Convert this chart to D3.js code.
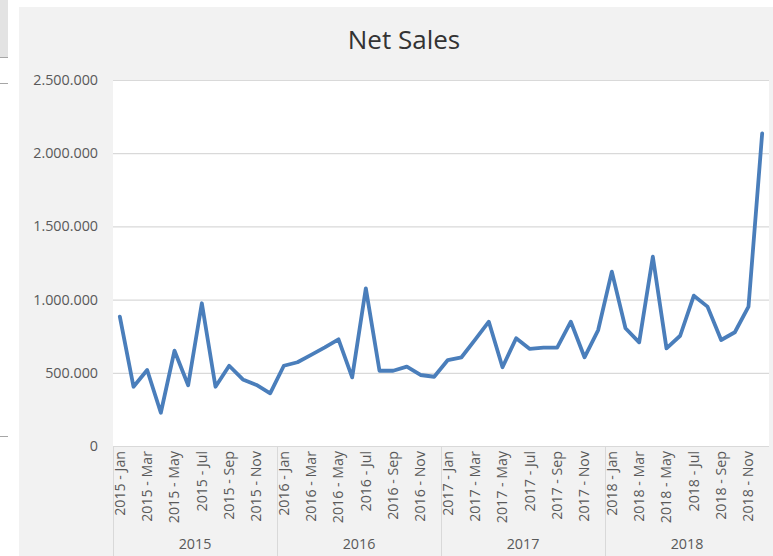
<!DOCTYPE html>
<html>
<head>
<meta charset="utf-8">
<script src="https://cdn.jsdelivr.net/npm/d3@7"></script>
<style>
  html, body { margin: 0; padding: 0; background: #ffffff; }
  svg { display: block; }
</style>
</head>
<body>
<svg id="chart" width="773" height="556"></svg>
<script>
// Monthly net sales, 2015 - 2018
const years = ["2015", "2016", "2017", "2018"];
const months = ["Jan", "Feb", "Mar", "Apr", "May", "Jun", "Jul", "Aug", "Sep", "Oct", "Nov", "Dec"];
const sales2015 = [883000, 405000, 519000, 227000, 651000, 415000, 975000, 405000, 548000, 455000, 417000, 360000];
const sales2016 = [548000, 572000, 622000, 674000, 729000, 469000, 1077000, 514000, 514000, 542000, 485000, 473000];
const sales2017 = [587000, 606000, 727000, 849000, 538000, 736000, 663000, 672000, 672000, 849000, 606000, 792000];
const sales2018 = [1191000, 804000, 708000, 1293000, 667000, 753000, 1027000, 952000, 724000, 777000, 952000, 2136000];
const yTicks = [0, 500000, 1000000, 1500000, 2000000, 2500000];

const salesByYear = [sales2015, sales2016, sales2017, sales2018];
const rows = [];
years.forEach((y, yi) => months.forEach((m, mi) => rows.push({ year: y, label: `${y} - ${m}`, monthIndex: mi, value: salesByYear[yi][mi] })));

const svg = d3.select("#chart");
const W = 773, H = 556;
const plot = { left: 113, right: 769, top: 80, bottom: 446 };
const FONT = "'Open Sans', sans-serif";
const TEXT = "#595959";
const GRID = "#d9d9d9";

// Chart background and the bits of sheet around it
svg.append("rect").attr("x", 0).attr("y", 0).attr("width", W).attr("height", H).attr("fill", "#ffffff");
svg.append("rect").attr("x", 19).attr("y", 7).attr("width", W - 19).attr("height", H - 7).attr("fill", "#f2f2f2");
svg.append("rect").attr("x", 0).attr("y", 0).attr("width", 8).attr("height", 57).attr("fill", "#e3e3e3");
[57, 83, 436].forEach(y => svg.append("line")
  .attr("x1", 0).attr("x2", 8).attr("y1", y + 0.5).attr("y2", y + 0.5)
  .attr("stroke", "#a6a6a6").attr("stroke-width", 1));

// Plot area
svg.append("rect")
  .attr("x", plot.left).attr("y", plot.top)
  .attr("width", plot.right - plot.left).attr("height", plot.bottom - plot.top)
  .attr("fill", "#ffffff");

const x = d3.scaleBand().domain(rows.map(d => d.label)).range([plot.left, plot.right]).padding(0);
const xYear = d3.scaleBand().domain(years).range([plot.left, plot.right]).padding(0);
const y = d3.scaleLinear().domain([0, 2500000]).range([plot.bottom, plot.top]);

const locale = d3.formatLocale({ decimal: ",", thousands: ".", grouping: [3], currency: ["", ""] });
const fmt = locale.format(",d");

// Horizontal gridlines + value labels
const yAxis = d3.axisLeft(y).tickValues(yTicks).tickFormat(fmt)
  .tickSize(-(plot.right - plot.left)).tickPadding(15);
const gy = svg.append("g").attr("transform", `translate(${plot.left},0)`).call(yAxis);
gy.select(".domain").remove();
gy.selectAll(".tick line").attr("stroke", GRID).attr("stroke-width", 1.2);
gy.selectAll(".tick text")
  .attr("fill", TEXT).style("font-family", FONT).style("font-size", "14.3px");

// Category axis: month labels (every other month)
const gx = svg.append("g");
gx.selectAll("text.month")
  .data(rows.filter(d => d.monthIndex % 2 === 0))
  .join("text")
  .attr("class", "month")
  .attr("transform", d => `translate(${x(d.label) + x.bandwidth() / 2},${plot.bottom + 5}) rotate(-90)`)
  .attr("text-anchor", "end")
  .attr("dy", "0.35em")
  .attr("fill", TEXT)
  .style("font-family", FONT).style("font-size", "14.2px")
  .text(d => d.label);

// Year group separators and labels
const sepX = years.map(yr => xYear(yr));
gx.selectAll("line.sep")
  .data(sepX)
  .join("line")
  .attr("class", "sep")
  .attr("x1", d => Math.round(d) + 0.5).attr("x2", d => Math.round(d) + 0.5)
  .attr("y1", plot.bottom).attr("y2", H)
  .attr("stroke", GRID).attr("stroke-width", 1);

gx.selectAll("text.year")
  .data(years)
  .join("text")
  .attr("class", "year")
  .attr("x", d => xYear(d) + xYear.bandwidth() / 2)
  .attr("y", 544)
  .attr("dy", "0.35em")
  .attr("text-anchor", "middle")
  .attr("fill", TEXT)
  .style("font-family", FONT).style("font-size", "14.3px")
  .text(d => d);

// Axis baseline
svg.append("line")
  .attr("x1", plot.left).attr("x2", plot.right)
  .attr("y1", plot.bottom + 0.5).attr("y2", plot.bottom + 0.5)
  .attr("stroke", GRID).attr("stroke-width", 1.2);

// Net sales line
const line = d3.line()
  .x(d => x(d.label) + x.bandwidth() / 2)
  .y(d => y(d.value));
svg.append("path")
  .datum(rows)
  .attr("d", line)
  .attr("fill", "none")
  .attr("stroke", "#4a7ebb")
  .attr("stroke-width", 3.8)
  .attr("stroke-linejoin", "round")
  .attr("stroke-linecap", "round");

// Title
svg.append("text")
  .attr("x", 404).attr("y", 40)
  .attr("dy", "0.35em")
  .attr("text-anchor", "middle")
  .attr("fill", "#333333")
  .style("font-family", FONT).style("font-size", "26px")
  .text("Net Sales");
</script>
</body>
</html>
